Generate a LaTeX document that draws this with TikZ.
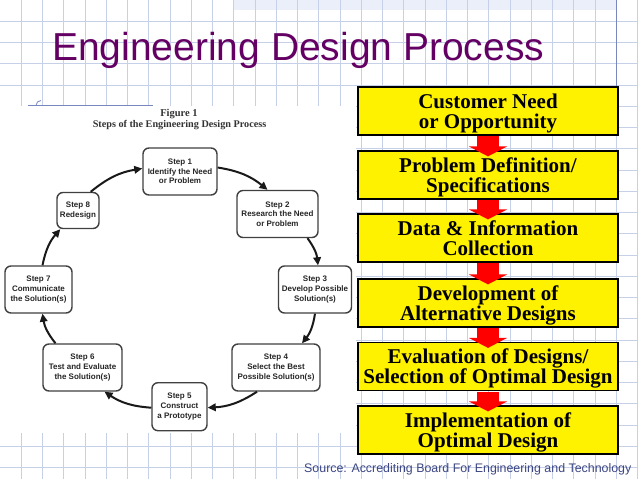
\documentclass[tikz,border=0pt]{standalone}
\usepackage{fontspec}
\setmainfont{Liberation Serif}
\newfontfamily\arialfont{Liberation Sans}
\usetikzlibrary{arrows.meta,positioning}

\definecolor{titlepurple}{RGB}{100,0,100}
\definecolor{gridblue}{RGB}{198,208,232}
\definecolor{bandblue}{RGB}{234,239,250}
\definecolor{edgeblue}{RGB}{120,135,190}
\definecolor{sourceblue}{RGB}{60,70,130}

\begin{document}
\begin{tikzpicture}[x=1pt,y=-1pt,
    gridline/.style={draw=gridblue,line width=0.8pt},
    stepbox/.style={draw=black!75,line width=1.4pt,rounded corners=6pt,fill=white,
      align=center,inner sep=0pt,text=black!85,
      font=\arialfont\bfseries\fontsize{8}{9.7}\selectfont},
    flowbox/.style={draw=black,line width=1.2pt,fill=yellow,
      minimum width=260pt,minimum height=48pt,inner sep=0pt,align=center,
      text height=34pt,text depth=0pt,
      font=\bfseries\fontsize{21}{20}\selectfont},
    cyclearrow/.style={-{Triangle[length=8pt,width=7.5pt]},line width=2pt,black!90},
    flowarrow/.style={red,line width=22pt,-{Triangle[length=10pt,width=38pt]},shorten <=0.6pt}]

    % 画布与背景网格
    \useasboundingbox (0,0) rectangle (638,479);
    \fill[white] (0,0) rectangle (638,479);
    \fill[bandblue] (233,0) rectangle (616,10);
    \foreach \i in {1,...,30}
        \draw[gridline] (\i*21.25,0) -- (\i*21.25,479);
    \foreach \j in {1,...,22}
        \draw[gridline] (0,\j*21.25) -- (638,\j*21.25);
    \draw[edgeblue,line width=0.8pt] (616,0) -- (616,87);

    % 标题
    \node[anchor=base west,inner sep=0pt,text=titlepurple,
          font=\arialfont\fontsize{39}{39}\selectfont] (title) at (52,60) {Engineering Design Process};

    % 左边的插图 (白底)
    \fill[white] (0,106) rectangle (356,433);
    \draw[edgeblue,line width=0.8pt] (28,105.5) -- (153,105.5);
    \draw[edgeblue,line width=0.8pt] (36,105.5) arc[start angle=180,end angle=270,radius=5];

    \node[anchor=base,inner sep=0pt,font=\bfseries\fontsize{10.5}{10.5}\selectfont,text=black!80] (figtitle) at (179,116.5) {Figure 1};
    \node[anchor=base,inner sep=0pt,font=\bfseries\fontsize{10.2}{10.2}\selectfont,text=black!80] (figsub) at (179.5,127.7) {Steps of the Engineering Design Process};

    % 八个步骤
    \node[stepbox,minimum width=74pt,minimum height=47pt] (s1) at (180,171.5) {Step 1\\Identify the Need\\or Problem};
    \node[stepbox,minimum width=81pt,minimum height=47pt] (s2) at (277.5,214) {Step 2\\Research the Need\\or Problem};
    \node[stepbox,minimum width=73pt,minimum height=47pt] (s3) at (315,289.5) {Step 3\\Develop Possible\\Solution(s)};
    \node[stepbox,minimum width=88pt,minimum height=47pt] (s4) at (276,367.5) {Step 4\\Select the Best\\Possible Solution(s)};
    \node[stepbox,minimum width=55pt,minimum height=48pt] (s5) at (179.5,406.7) {Step 5\\Construct\\a Prototype};
    \node[stepbox,minimum width=79pt,minimum height=47pt] (s6) at (82.5,367.5) {Step 6\\Test and Evaluate\\the Solution(s)};
    \node[stepbox,minimum width=67pt,minimum height=47pt] (s7) at (38.5,289.5) {Step 7\\Communicate\\the Solution(s)};
    \node[stepbox,minimum width=42pt,minimum height=36pt] (s8) at (78,210.5) {Step 8\\Redesign};

    % 循环箭头
    \draw[cyclearrow] ([yshift=4pt]s1.east) to[bend left=15] ([xshift=-10pt]s2.north);
    \draw[cyclearrow] ([xshift=30pt]s2.south) to[bend left=15] ([xshift=3pt]s3.north);
    \draw[cyclearrow] (s3.south) to[bend left=15] ([xshift=26pt]s4.north);
    \draw[cyclearrow] ([xshift=-19pt]s4.south) to[bend left=15] ([yshift=-1pt]s5.east);
    \draw[cyclearrow] ([yshift=-1pt]s5.west) to[bend left=15] ([xshift=22pt]s6.south);
    \draw[cyclearrow] ([xshift=-27pt]s6.north) to[bend left=15] ([xshift=4pt]s7.south);
    \draw[cyclearrow] ([xshift=4pt]s7.north) to[bend left=15] ([xshift=4pt]s8.south west);
    \draw[cyclearrow] ([xshift=-9pt]s8.north east) to[bend left=15] ([yshift=3pt]s1.west);

    % 右边的流程
    \node[flowbox] (b1) at (488,111) {Customer Need\\or Opportunity};
    \node[flowbox] (b2) at (488,175) {Problem Definition/\\Specifications};
    \node[flowbox] (b3) at (488,238) {Data \& Information\\Collection};
    \node[flowbox] (b4) at (488,303) {Development of\\Alternative Designs};
    \node[flowbox] (b5) at (488,366.5) {Evaluation of Designs/\\Selection of Optimal Design};
    \node[flowbox] (b6) at (488,430) {Implementation of\\Optimal Design};

    \draw[flowarrow] (b1.south) -- ([yshift=-6pt]b2.north);
    \draw[flowarrow] (b2.south) -- ([yshift=-6pt]b3.north);
    \draw[flowarrow] (b3.south) -- ([yshift=-6pt]b4.north);
    \draw[flowarrow] (b4.south) -- ([yshift=-6pt]b5.north);
    \draw[flowarrow] (b5.south) -- ([yshift=-6pt]b6.north);

    % 出处
    \node[anchor=base west,inner sep=0pt,text=sourceblue,
          font=\arialfont\fontsize{12.4}{12.4}\selectfont] (source) at (304,472) {Source: Accrediting Board For Engineering and Technology};

\end{tikzpicture}
\end{document}
